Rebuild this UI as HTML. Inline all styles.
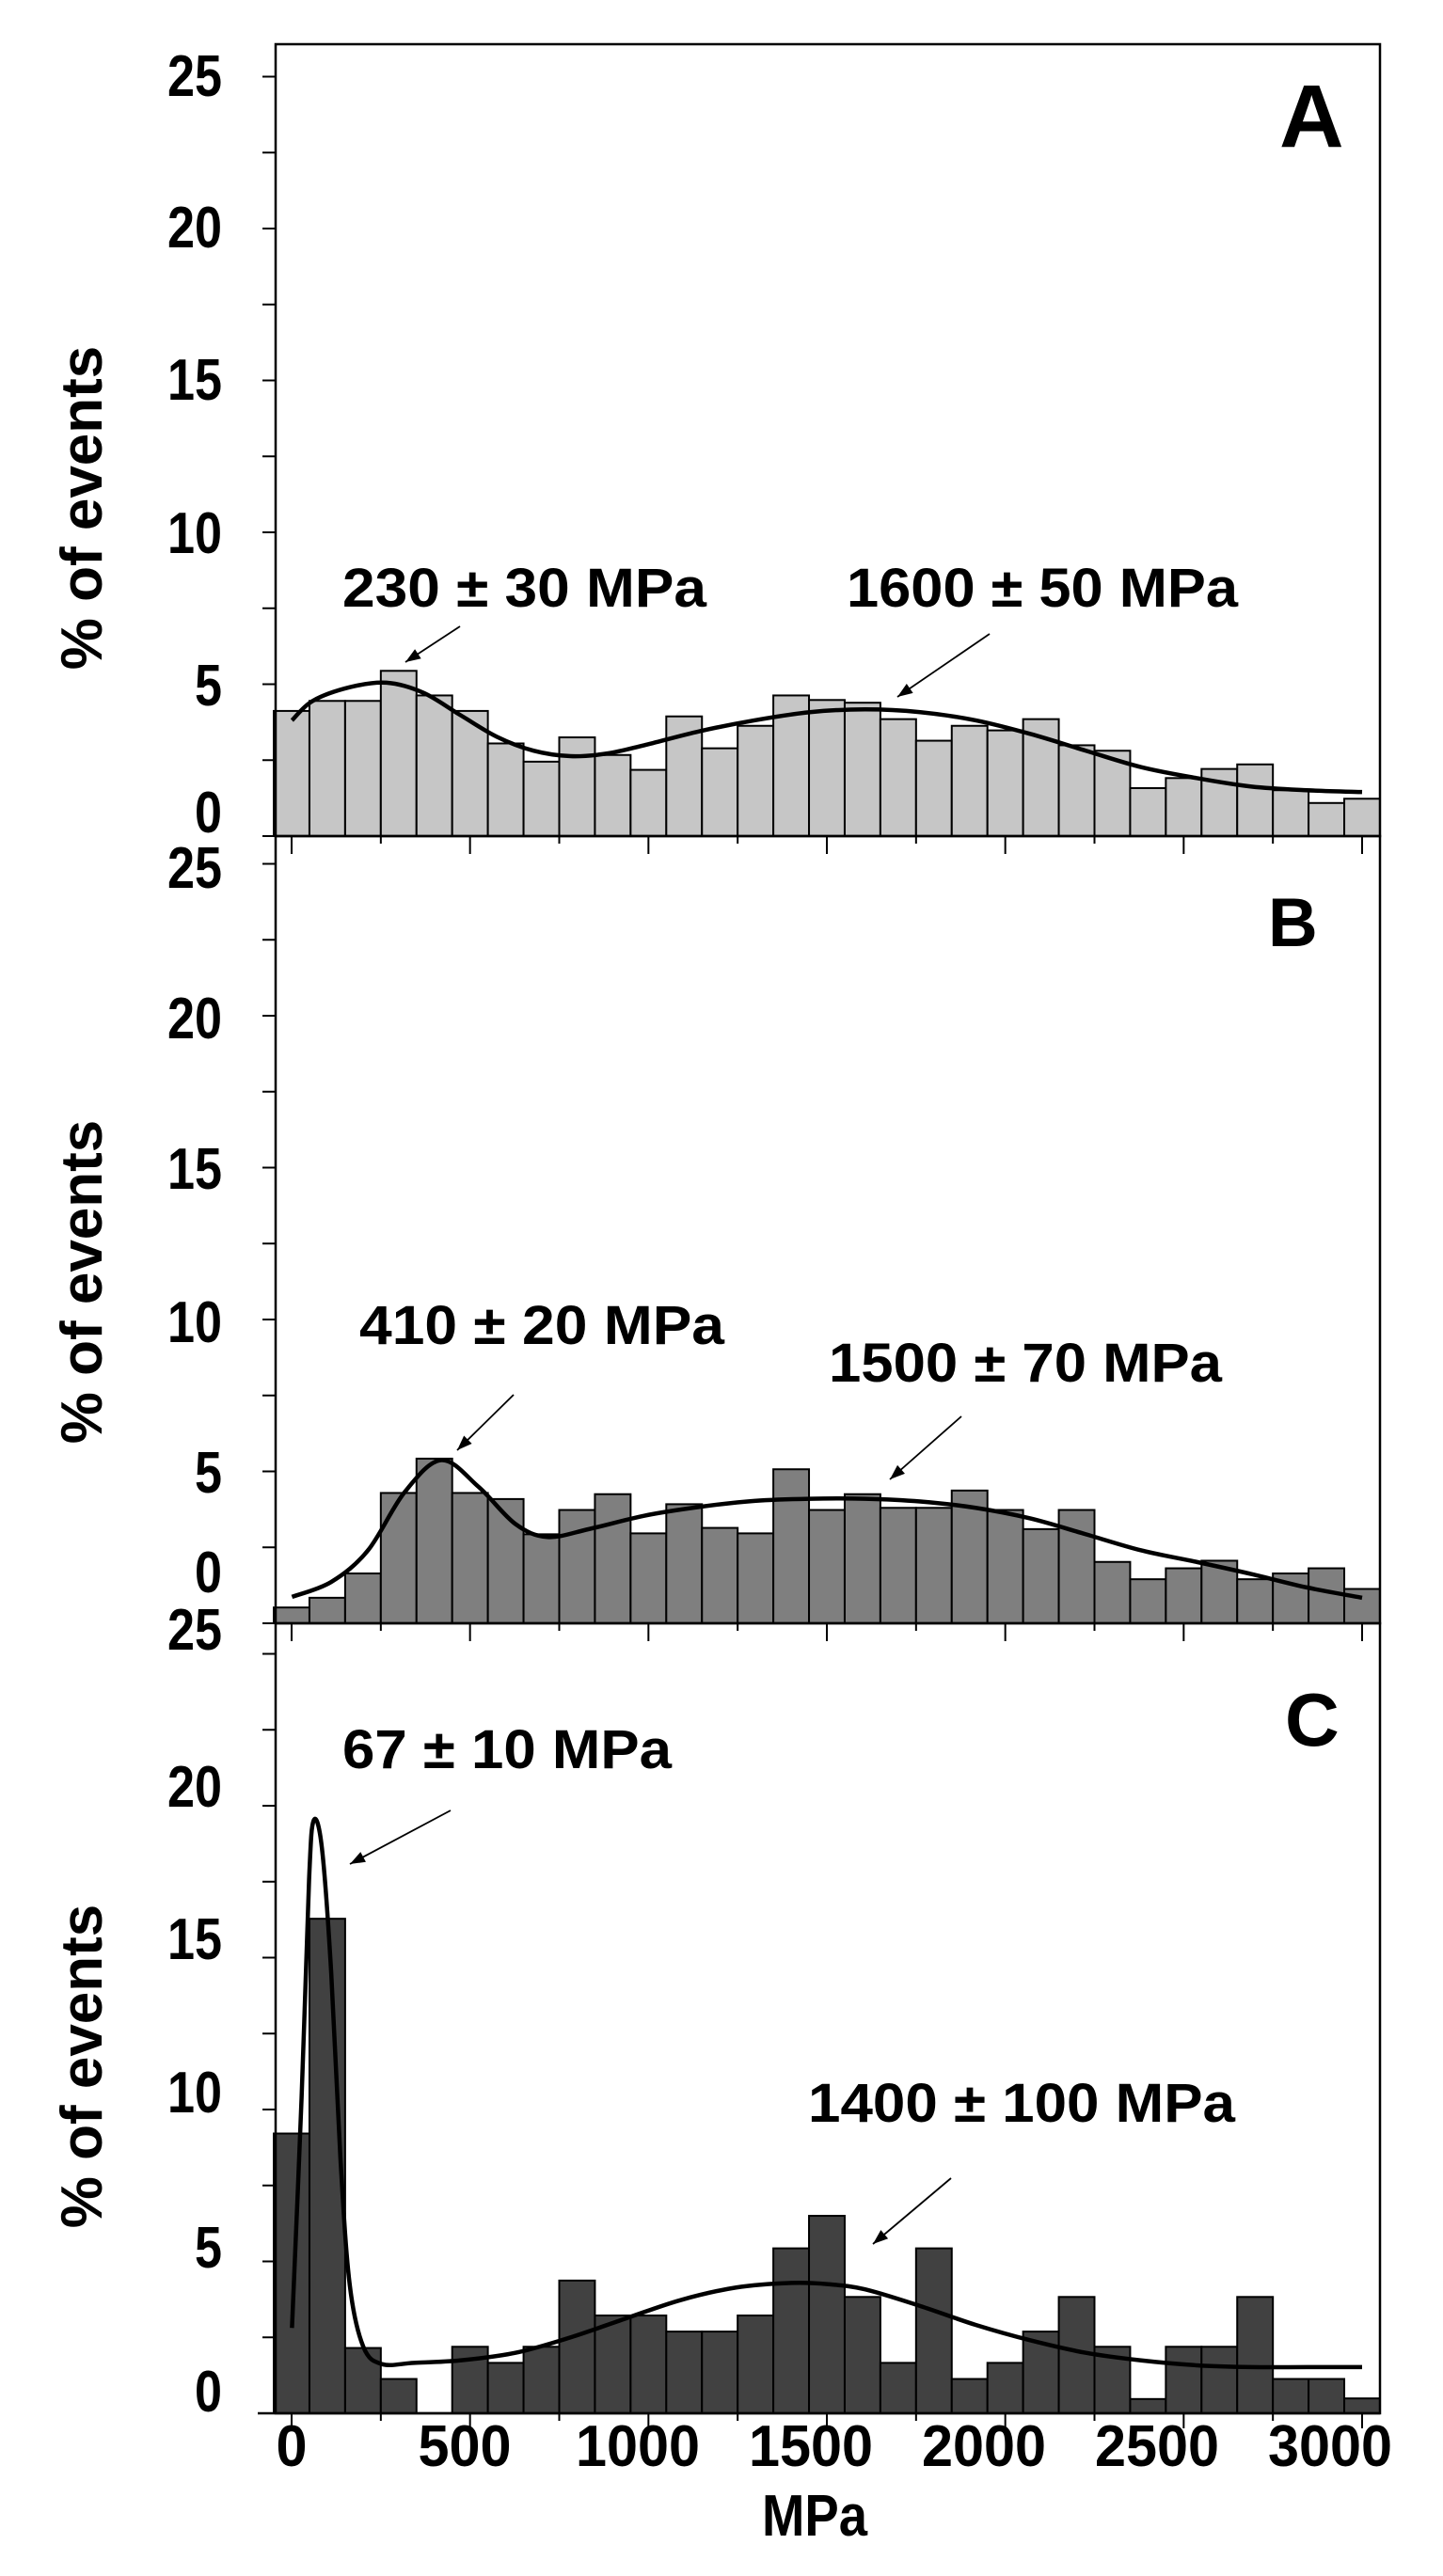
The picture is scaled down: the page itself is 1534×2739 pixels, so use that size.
<!DOCTYPE html>
<html><head><meta charset="utf-8"><style>
html,body{margin:0;padding:0;background:#fff;}
svg{display:block;font-family:"Liberation Sans",Arial,sans-serif;font-weight:bold;}
</style></head><body>
<svg id="chart" width="1534" height="2739" viewBox="0 0 1534 2739" xmlns="http://www.w3.org/2000/svg"></svg>
<script>
// ---- data ----
const binCenters = [0,100,200,300,400,500,600,700,800,900,1000,1100,1200,1300,1400,1500,1600,1700,1800,1900,2000,2100,2200,2300,2400,2500,2600,2700,2800,2900,3000];
const valuesA = [4.12,4.45,4.45,5.44,4.63,4.12,3.05,2.45,3.25,2.67,2.18,3.94,2.89,3.63,4.63,4.48,4.39,3.85,3.14,3.63,3.48,3.85,2.99,2.81,1.58,1.91,2.21,2.36,1.51,1.09,1.23];
const valuesB = [0.52,0.84,1.64,4.29,5.42,4.29,4.09,2.93,3.73,4.25,2.96,3.92,3.14,2.96,5.07,3.73,4.25,3.80,3.80,4.37,3.73,3.10,3.73,2.02,1.45,1.81,2.06,1.45,1.64,1.81,1.13];
const valuesC = [9.21,16.28,2.15,1.13,0,2.19,1.66,2.19,4.37,3.22,3.22,2.69,2.69,3.22,5.43,6.50,3.83,1.66,5.43,1.13,1.66,2.69,3.83,2.19,0.47,2.19,2.19,3.83,1.13,1.13,0.49];
const fitXA = [1,59,163,266,369,472,575,678,782,885,988,1143,1297,1452,1607,1762,1917,2071,2226,2381,2536,2690,2845,3000];
const fitYA = [3.81,4.45,4.90,5.05,4.72,3.99,3.27,2.81,2.63,2.72,2.99,3.45,3.81,4.08,4.17,4.08,3.81,3.36,2.81,2.27,1.91,1.63,1.51,1.45];
const fitXB = [1,111,214,317,420,524,627,717,833,988,1143,1297,1452,1607,1762,1917,2071,2226,2381,2536,2690,2845,3000];
const fitYB = [0.87,1.36,2.40,4.32,5.37,4.49,3.27,2.84,3.10,3.54,3.83,4.03,4.10,4.10,4.01,3.80,3.45,2.93,2.40,2.02,1.62,1.18,0.84];
const fitXC = [1,28,49,62,85,111,137,163,201,253,343,472,627,782,936,1091,1246,1401,1504,1607,1762,1917,2071,2226,2381,2536,2690,2845,3000];
const fitYC = [2.81,10.40,17.58,19.52,18.60,14.50,8.35,4.22,2.19,1.62,1.66,1.74,1.99,2.50,3.12,3.73,4.14,4.29,4.25,4.08,3.53,2.91,2.40,1.99,1.74,1.58,1.52,1.52,1.52];
const xTickLabels = ["0","500","1000","1500","2000","2500","3000"];
const yTickLabels = ["25","20","15","10","5","0"];

// ---- layout ----
const NS="http://www.w3.org/2000/svg";
const svg=document.getElementById('chart');
const L=293,R=1467;
function xs(v){return 310+v*1138/3000;}
function xl(v){return 310+v*1104/3000;}
const panels=[
 {key:'a',top:47,zero:889,vals:valuesA,fx:fitXA,fy:fitYA,fill:'#c6c6c6',
  labY:[80,241,403,566,728,863],letter:'A',lx:1360,ly:156,ls:95,
  ann:[["230 ± 30 MPa",364,645,387],["1600 ± 50 MPa",900,645,416]],
  arr:[[489,666,431,704],[1052,674,954,741]], title:540},
 {key:'b',top:889,zero:1726,vals:valuesB,fx:fitXB,fy:fitYB,fill:'#7f7f7f',
  labY:[922,1082,1242,1405,1565,1671],letter:'B',lx:1348,ly:1006,ls:73,
  ann:[["410 ± 20 MPa",382,1429,388],["1500 ± 70 MPa",881,1469,418]],
  arr:[[546,1483,486,1542],[1022,1506,946,1573]], title:1363},
 {key:'c',top:1726,zero:2566,vals:valuesC,fx:fitXC,fy:fitYC,fill:'#414141',
  labY:[1732,1899,2061,2224,2389,2542],letter:'C',lx:1366,ly:1856,ls:80,
  ann:[["67 ± 10 MPa",364,1880,350],["1400 ± 100 MPa",859,2256,454]],
  arr:[[479,1925,372,1982],[1011,2316,928,2386]], title:2197}
];
const UNIT=32.3;
function el(tag,attrs,parent){const e=document.createElementNS(NS,tag);for(const k in attrs)e.setAttribute(k,attrs[k]);(parent||svg).appendChild(e);return e;}

panels.forEach(p=>{
  const g=el('g',{});
  
  
  const ys=v=>p.zero-v*UNIT;
  p.vals.forEach((v,i)=>{
    const x0=xs(binCenters[i]-50),x1=xs(binCenters[i]+50);
    const b=el('rect',{x:x0,y:ys(v),width:x1-x0,height:p.zero-ys(v),fill:p.fill,stroke:'#000','stroke-width':2},g);
    
    
  });
  const pts=p.fx.map((x,i)=>[xs(x),ys(p.fy[i])]);
  let d='M'+pts[0][0]+','+pts[0][1];
  for(let i=0;i<pts.length-1;i++){
    const p0=pts[Math.max(0,i-1)],p1=pts[i],p2=pts[i+1],p3=pts[Math.min(pts.length-1,i+2)];
    const c1=[p1[0]+(p2[0]-p0[0])/6,p1[1]+(p2[1]-p0[1])/6];
    const c2=[p2[0]-(p3[0]-p1[0])/6,p2[1]-(p3[1]-p1[1])/6];
    d+=` C${c1[0]},${c1[1]} ${c2[0]},${c2[1]} ${p2[0]},${p2[1]}`;
  }
  const c=el('path',{d:d,fill:'none',stroke:'#000','stroke-width':4.5},g);
  
  
  const f=el('rect',{x:L,y:p.top,width:R-L,height:p.zero-p.top,fill:'none',stroke:'#000','stroke-width':2.5},g);
  
  
  for(let v=0;v<=25;v+=2.5){
    const yy=ys(v); if(yy<p.top-1)continue;
    const t=el('line',{x1:279,x2:L,y1:yy,y2:yy,stroke:'#000','stroke-width':2},g);
    
    
  }
  if(p.key!=='a'){
    for(let v=0;v<=3000;v+=250){
      const t=el('line',{x1:xs(v),x2:xs(v),y1:p.top,y2:p.top+(v%500===0?19:8),stroke:'#000','stroke-width':2},g);
      
      
    }
  }
  yTickLabels.forEach((s,i)=>{
    const t=el('text',{x:236,y:p.labY[i]+22,'font-size':62,'text-anchor':'end',textLength:s.length*29,lengthAdjust:'spacingAndGlyphs'},g);
    t.textContent=s;
    
    
  });
  const tt=el('text',{x:0,y:0,'font-size':62,'text-anchor':'middle',transform:`translate(108,${p.title}) rotate(-90)`},g);
  tt.textContent='% of events';
  
  
  const lt=el('text',{x:p.lx,y:p.ly,'font-size':p.ls},g);
  lt.textContent=p.letter;
  
  
  p.ann.forEach(a=>{
    const t=el('text',{x:a[1],y:a[2],'font-size':58,textLength:a[3],lengthAdjust:'spacingAndGlyphs'},g);
    t.textContent=a[0];
    
    
  });
  p.arr.forEach(a=>{
    const ln=el('line',{x1:a[0],y1:a[1],x2:a[2],y2:a[3],stroke:'#000','stroke-width':1.8},g);
    
    
    const ang=Math.atan2(a[3]-a[1],a[2]-a[0]),h=16,w=6;
    const bx=a[2]-h*Math.cos(ang),by=a[3]-h*Math.sin(ang);
    const px=-Math.sin(ang)*w,py=Math.cos(ang)*w;
    const hd=el('polygon',{points:`${a[2]},${a[3]} ${bx+px},${by+py} ${bx-px},${by-py}`,fill:'#000'},g);
    
    
  });
});
for(let v=0;v<=3000;v+=250){
  const t=el('line',{x1:xs(v),x2:xs(v),y1:2566,y2:2566+(v%500===0?16:8),stroke:'#000','stroke-width':2});
  
  
}
const bl=el('line',{x1:274,x2:R,y1:2566,y2:2566,stroke:'#000','stroke-width':2.5});


xTickLabels.forEach(s=>{
  const t=el('text',{x:xl(+s),y:2622,'font-size':62,'text-anchor':'middle',textLength:s.length*33,lengthAdjust:'spacingAndGlyphs'});
  t.textContent=s;
  
  
});
const xt=el('text',{x:866,y:2696,'font-size':62,'text-anchor':'middle',textLength:112,lengthAdjust:'spacingAndGlyphs'});
xt.textContent='MPa';


</script>
</body></html>
